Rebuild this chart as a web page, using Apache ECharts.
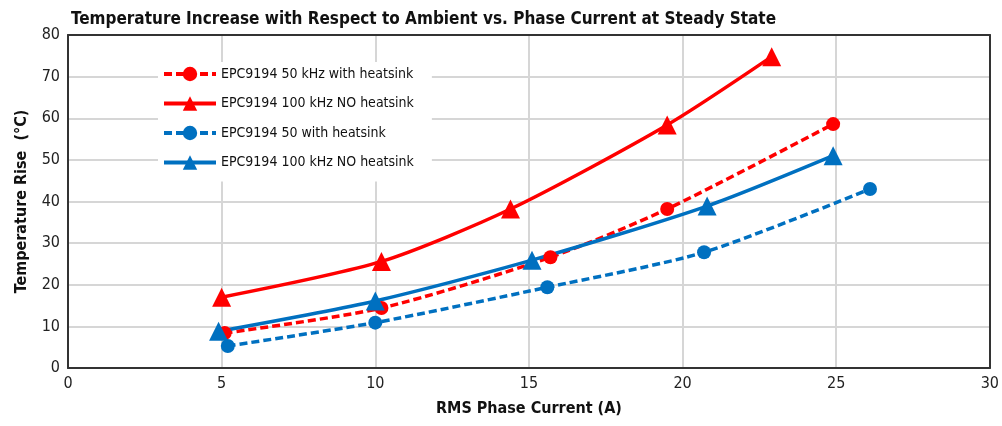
<!DOCTYPE html>
<html>
<head>
<meta charset="utf-8">
<script src="https://cdn.jsdelivr.net/npm/echarts@6/dist/echarts.min.js"></script>
<style>
html, body { margin: 0; padding: 0; background: #fff; }
#main { width: 1002px; height: 426px; }
</style>
</head>
<body>
<div id="main"></div>
<script>
var FONT = "'Liberation Sans Narrow', 'DejaVu Sans Condensed', 'Roboto', sans-serif";

// 读图估计的数据
var red50Heat = [[5.1, 8.4], [10.2, 14.4], [15.7, 26.6], [19.5, 38.2], [24.9, 58.6]];
var red100NoHeat = [[5.0, 17.0], [10.2, 25.6], [14.4, 38.2], [19.5, 58.4], [22.9, 74.8]];
var blue50Heat = [[5.2, 5.3], [10.0, 10.9], [15.6, 19.4], [20.7, 27.8], [26.1, 43.0]];
var blue100NoHeat = [[4.9, 8.8], [10.0, 16.1], [15.1, 25.9], [20.8, 38.9], [24.9, 51.0]];

var names = [
    'EPC9194 50 kHz with heatsink',
    'EPC9194 100 kHz NO heatsink',
    'EPC9194 50 with heatsink',
    'EPC9194 100 kHz NO heatsink '
];

var RED = '#ff0000';
var BLUE = '#0070c0';

function makeSeries(name, data, color, dashed, symbol, size) {
    return {
        name: name,
        type: 'line',
        data: data,
        smooth: 0.25,
        symbol: symbol,
        symbolSize: size,
        lineStyle: { color: color, width: 3.5, type: dashed ? [8, 4] : 'solid' },
        itemStyle: { color: color }
    };
}

// 上边和右边的框线
function frameAxis(pos) {
    return {
        type: 'value',
        position: pos,
        min: 0,
        max: 1,
        axisLine: { show: true, onZero: false, lineStyle: { color: '#333', width: 2 } },
        axisTick: { show: false },
        axisLabel: { show: false },
        splitLine: { show: false }
    };
}

var myChart = echarts.init(document.getElementById('main'));

var option = {
    backgroundColor: '#fff',
    animation: false,
    title: {
        text: 'Temperature Increase with Respect to Ambient vs. Phase Current at Steady State',
        left: 66,
        top: 6,
        textStyle: { fontFamily: FONT, fontSize: 17, fontWeight: 'bold', color: '#111' }
    },
    grid: { left: 68, right: 11, top: 35, bottom: 58 },
    legend: {
        orient: 'vertical',
        left: 158,
        top: 62,
        itemWidth: 52,
        itemHeight: 18,
        itemGap: 11.5,
        padding: [3, 14, 10, 4],
        backgroundColor: '#fff',
        data: names,
        lineStyle: { width: 4 },
        textStyle: { fontFamily: FONT, fontSize: 14, lineHeight: 18, color: '#111' }
    },
    xAxis: [{
        type: 'value',
        min: 0,
        max: 30,
        interval: 5,
        name: 'RMS Phase Current (A)',
        nameLocation: 'middle',
        nameGap: 33,
        nameTextStyle: { fontFamily: FONT, fontSize: 16, fontWeight: 'bold', color: '#111' },
        axisLine: { show: true, lineStyle: { color: '#333', width: 2 } },
        axisTick: { show: false },
        axisLabel: { fontFamily: FONT, fontSize: 16, color: '#222', margin: 8 },
        splitLine: { show: true, lineStyle: { color: '#d6d6d6', width: 2 } }
    }, frameAxis('top')],
    yAxis: [{
        type: 'value',
        min: 0,
        max: 80,
        interval: 10,
        name: 'Temperature Rise  (°C)',
        nameLocation: 'middle',
        nameGap: 38,
        nameTextStyle: { fontFamily: FONT, fontSize: 16, fontWeight: 'bold', color: '#111' },
        axisLine: { show: true, lineStyle: { color: '#333', width: 2 } },
        axisTick: { show: false },
        axisLabel: { fontFamily: FONT, fontSize: 16, color: '#222', margin: 8 },
        splitLine: { show: true, lineStyle: { color: '#d6d6d6', width: 2 } }
    }, frameAxis('right')],
    series: [
        makeSeries(names[0], red50Heat, RED, true, 'circle', 14),
        makeSeries(names[1], red100NoHeat, RED, false, 'triangle', 19),
        makeSeries(names[2], blue50Heat, BLUE, true, 'circle', 14),
        makeSeries(names[3], blue100NoHeat, BLUE, false, 'triangle', 19)
    ]
};

myChart.setOption(option);
</script>
</body>
</html>
